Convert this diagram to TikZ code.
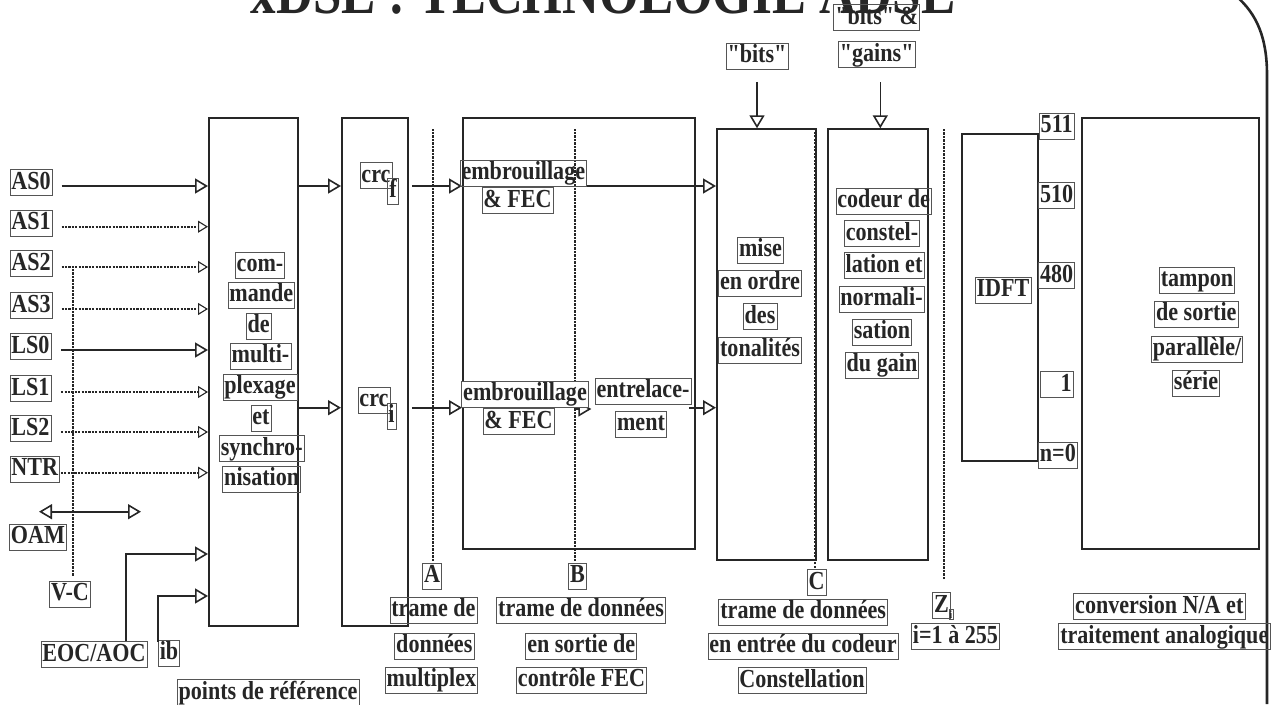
\documentclass[tikz,border=0pt]{standalone}
\usepackage{fontspec}
\setmainfont{Liberation Serif}[FakeStretch=0.85]
\newfontfamily\qfont{Liberation Serif}[FakeStretch=0.85]
\usetikzlibrary{arrows.meta}
\definecolor{ink}{HTML}{262626}
\definecolor{boxc}{HTML}{555555}
\tikzset{
  lbl/.style={draw=boxc, line width=0.7pt, inner xsep=1.5pt, inner ysep=1pt,
    text height=18.5pt, text depth=5.5pt, text=ink,
    font=\bfseries\fontsize{26}{28}\selectfont},
  qlbl/.style={lbl, font=\qfont\bfseries\fontsize{26}{28}\selectfont},
  block/.style={draw=ink, line width=1.8pt, anchor=north west, inner sep=0pt},
  arr/.style={draw=ink, line width=1.6pt,
    -{Triangle[open, length=13pt, width=15pt, line width=1.6pt]}},
  arrboth/.style={draw=ink, line width=1.6pt,
    {Triangle[open, length=13pt, width=15pt, line width=1.6pt]}-{Triangle[open, length=13pt, width=15pt, line width=1.6pt]}},
  darr/.style={draw=ink, line width=1.8pt, dash pattern=on 2.2pt off 1.2pt,
    -{Triangle[open, length=10pt, width=12pt, line width=1.1pt]}},
  dline/.style={draw=ink, line width=1.8pt, dash pattern=on 2.2pt off 1.3pt},
}
\begin{document}
\begin{tikzpicture}[x=1pt, y=-1pt]
\useasboundingbox (0,0) rectangle (1279,704);
\clip (0,0) rectangle (1279,704);

% title
\node[font=\bfseries\fontsize{60}{60}\selectfont, anchor=base, text=ink, inner sep=0pt] (title) at (603,13) {xDSL : TECHNOLOGIE ADSL};

% right frame
\draw[ink, line width=2.6pt] (1236,-4) .. controls (1257,14) and (1267,38) .. (1267,75) -- (1267,704);

% levels
\coordinate (yA) at (0,186);
\coordinate (yB) at (0,407.7);
\coordinate (ytop) at (0,129);

% blocks
\node[block, minimum width=89pt, minimum height=508pt] (mux) at (208,117) {};
\node[block, minimum width=66pt, minimum height=508pt] (crc) at (341,117) {};
\node[block, minimum width=232pt, minimum height=430.7pt] (scr) at (462,117) {};
\node[block, minimum width=99pt, minimum height=430.7pt] (mise) at (716,128.3) {};
\node[block, minimum width=100pt, minimum height=430.7pt] (cod) at (826.7,128.3) {};
\node[block, minimum width=75.7pt, minimum height=326.7pt] (idft) at (961,133.3) {};
\node[block, minimum width=177pt, minimum height=431pt] (tamp) at (1080.7,117.3) {};

% inputs
\foreach \n/\t/\y/\s/\g in {as0/AS0/186/arr/9, as1/AS1/226.7/darr/9, as2/AS2/267/darr/9,
  as3/AS3/309/darr/9, ls0/LS0/350/arr/10, ls1/LS1/392/darr/10, ls2/LS2/432/darr/10, ntr/NTR/472.7/darr/1}{
  \node[lbl, anchor=west] (\n) at (9.5,\y-3.5) {\t};
  \draw[\s, shorten <=\g pt] ([yshift=-3.5pt]\n.east) -- ([yshift=-3.5pt]\n.east -| mux.west);
}

% V-C, OAM, EOC/AOC, ib
\node[lbl] (vc) at (70,594) {V-C};
\draw[dline, shorten <=5pt] ([xshift=2.7pt]vc.north) -- ([xshift=2.7pt]vc.north |- 0,266);
\node[lbl] (oam) at (38,537) {OAM};
\coordinate (oamL) at (39,511.7);
\coordinate (oamR) at (141,511.7);
\draw[arrboth] (oamL) -- (oamR);
\node[lbl] (eoc) at (94,654.5) {EOC/AOC};
\draw[arr] ([xshift=31.7pt]eoc.north) |- (mux.west |- 0,554);
\node[lbl] (ib) at (169,653) {ib};
\draw[arr] ([yshift=-2pt]ib.north west) |- (mux.west |- 0,596);
\node[lbl] (pref) at (268,692.5) {points de référence};

% mux text
\node[lbl] (m1) at (260,265) {com-};
\node[lbl] (m2) at (261.3,295.3) {mande};
\node[lbl] (m3) at (258.7,326.3) {de};
\node[lbl] (m4) at (260.5,356.3) {multi-};
\node[lbl] (m5) at (260,387.3) {plexage};
\node[lbl] (m6) at (261,418.3) {et};
\node[lbl] (m7) at (261.7,448.7) {synchro-};
\node[lbl] (m8) at (261.7,479.3) {nisation};

% mux -> crc
\draw[arr] (mux.east |- yA) -- (crc.west |- yA);
\draw[arr] (mux.east |- yB) -- (crc.west |- yB);

% crc labels
\node[lbl] (crcf) at (376,175.5) {crc};
\node[lbl] (subf) at (393,191) {f};
\node[lbl] (crci) at (374,400) {crc};
\node[lbl] (subi) at (391.5,416) {i};

% crc -> scrambler
\draw[arr] ([xshift=3pt]crc.east |- yA) -- (scr.west |- yA);
\draw[arr] ([xshift=3pt]crc.east |- yB) -- (scr.west |- yB);

% dotted reference lines
\node[lbl] (pA) at (432,576) {A};
\draw[dline, shorten <=1.5pt] ([xshift=0.7pt]pA.north) -- ([xshift=0.7pt]pA.north |- ytop);
\node[lbl] (pB) at (577.5,576) {B};
\draw[dline, shorten <=1.5pt] ([xshift=-2.5pt]pB.north) -- ([xshift=-2.5pt]pB.north |- ytop);
\node[lbl] (pC) at (816.6,582.7) {C};
\draw[dline, shorten <=1.5pt] ([xshift=-1.6pt]pC.north) -- ([xshift=-1.6pt]pC.north |- ytop);
\node[lbl] (pZ) at (941.5,605.5) {Z};
\draw[dline, shorten <=13pt] ([xshift=2.3pt]pZ.north) -- ([xshift=2.3pt]pZ.north |- ytop);
\node[lbl, font=\bfseries\fontsize{11}{11}\selectfont, text height=8pt, text depth=0pt, inner xsep=0.8pt, inner ysep=1pt] (subz) at (951,614) {i};

% scrambler contents
\coordinate (intfrom) at (576,409);
\coordinate (intto) at (591.3,409);
\draw[arr] (intfrom) -- (intto);
\node[lbl] (emb1) at (523.3,173.3) {embrouillage};
\node[lbl] (fec1) at (517.5,200.8) {\& FEC};
\node[lbl, fill=white] (emb2) at (525,394.3) {embrouillage};
\node[lbl] (fec2) at (518.5,421.7) {\& FEC};
\node[lbl] (ent1) at (643,391) {entrelace-};
\node[lbl] (ent2) at (641,424) {ment};
\draw[arr] (emb1.east |- yA) -- (mise.west |- yA);
\draw[arr] ([xshift=-2pt]ent1.east |- yB) -- (mise.west |- yB);

% bits / gains
\node[qlbl] (bits) at (757,56) {"bits"};
\node[qlbl] (bg1) at (876.7,17.7) {"bits" \&};
\node[qlbl] (gains) at (876.7,54.7) {"gains"};
\draw[arr] ([yshift=-12.4pt]bits.south) -- (bits.south |- mise.north);
\draw[arr] ([xshift=3.6pt,yshift=-14pt]gains.south) -- ([xshift=3.6pt]gains.south |- cod.north);

% mise text
\node[lbl] (t1) at (760.5,250.3) {mise};
\node[lbl] (t2) at (760,283) {en ordre};
\node[lbl] (t3) at (760,316.5) {des};
\node[lbl] (t4) at (760,350) {tonalités};

% codeur text
\node[lbl] (c1) at (883.7,201) {codeur de};
\node[lbl] (c2) at (882,233.7) {constel-};
\node[lbl] (c3) at (884,265.7) {lation et};
\node[lbl] (c4) at (881.5,299) {normali-};
\node[lbl] (c5) at (882,332) {sation};
\node[lbl] (c6) at (882,365) {du gain};

% IDFT and indices
\node[lbl] (idl) at (1003,290) {IDFT};
\node[lbl] (n511) at (1056.7,126.3) {511};
\node[lbl] (n510) at (1056.7,195.7) {510};
\node[lbl] (n480) at (1056.7,275.7) {480};
\node[lbl, text width=30pt, align=right] (n1) at (1056.7,384.7) {1};
\node[lbl] (n0) at (1057.9,455) {n=0};

% tampon text
\node[lbl] (b1) at (1197,280) {tampon};
\node[lbl] (b2) at (1196.3,314.3) {de sortie};
\node[lbl] (b3) at (1197,349.2) {parallèle/};
\node[lbl] (b4) at (1196,383.3) {série};

% bottom captions
\node[lbl] (a1) at (433.4,610.3) {trame de};
\node[lbl] (a2) at (434.3,646) {données};
\node[lbl] (a3) at (431.4,680.3) {multiplex};
\node[lbl] (bb1) at (581,610.3) {trame de données};
\node[lbl] (bb2) at (581.3,646) {en sortie de};
\node[lbl] (bb3) at (581.5,680.3) {contrôle FEC};
\node[lbl] (cc1) at (803.2,612) {trame de données};
\node[lbl] (cc2) at (803,646.3) {en entrée du codeur};
\node[lbl] (cc3) at (802,680.7) {Constellation};
\node[lbl] (z1) at (955.5,636.7) {i=1 à 255};
\node[lbl] (v1) at (1159.3,606.7) {conversion N/A et};
\node[lbl] (v2) at (1164.3,636.7) {traitement analogique};
\end{tikzpicture}
\end{document}
